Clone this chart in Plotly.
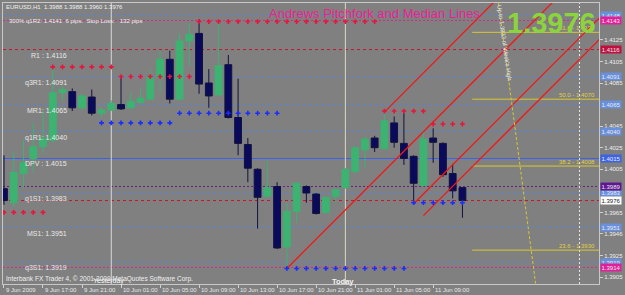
import plotly.graph_objects as go

# ---------------- data ----------------
bar_index = list(range(48))  # H1 bars, 0 = 9 Jun 13:00
opens  = [1.3987,1.3974,1.4001,1.4015,1.4026,1.4032,1.4076,1.4077,1.4062,1.4072,
          1.4057,1.4060,1.4065,1.4062,1.4067,1.4070,1.4090,1.4107,1.4070,1.4124,
          1.4131,1.4085,1.4074,1.4102,1.4053,1.4028,1.4005,1.3980,1.3989,1.3933,
          1.3966,1.3989,1.3982,1.3965,1.3980,1.3988,1.4003,1.4023,1.4034,1.4024,
          1.4048,1.4029,1.4017,1.3990,1.4034,1.4029,1.4001,1.3988]
highs  = [1.4018,1.4021,1.4032,1.4048,1.4059,1.4101,1.4082,1.4080,1.4075,1.4079,
          1.4062,1.4069,1.4091,1.4076,1.4080,1.4098,1.4115,1.4115,1.4131,1.4141,
          1.4144,1.4098,1.4143,1.4111,1.4089,1.4034,1.4006,1.4013,1.3993,1.3974,
          1.3993,1.3990,1.3983,1.3980,1.3988,1.4006,1.4026,1.4035,1.4036,1.4058,
          1.4054,1.4057,1.4018,1.4042,1.4043,1.4030,1.4010,1.3988]
lows   = [1.3972,1.3970,1.3988,1.4002,1.4020,1.4030,1.4069,1.4059,1.4060,1.4055,
          1.4053,1.4059,1.4060,1.4061,1.4066,1.4069,1.4076,1.4066,1.4069,1.4101,
          1.4075,1.4062,1.4073,1.4052,1.4018,1.3993,1.3950,1.3979,1.3931,1.3913,
          1.3955,1.3974,1.3963,1.3964,1.3974,1.3987,1.4001,1.4006,1.4021,1.4023,
          1.4025,1.4009,1.3973,1.3989,1.4011,1.3998,1.3978,1.3960]
closes = [1.3976,1.4002,1.4011,1.4026,1.4034,1.4076,1.4079,1.4062,1.4073,1.4057,
          1.4060,1.4066,1.4061,1.4068,1.4071,1.4090,1.4107,1.4070,1.4124,1.4130,
          1.4084,1.4073,1.4101,1.4053,1.4029,1.4006,1.3979,1.3988,1.3932,1.3966,
          1.3992,1.3983,1.3964,1.3979,1.3986,1.4005,1.4025,1.4033,1.4025,1.4050,
          1.4030,1.4015,1.3992,1.4033,1.4030,1.4000,1.3985,1.3976]

tick_index  = [0, 4, 8, 12, 16, 20, 24, 28, 32, 36, 40, 44]
tick_labels = ["9 Jun 2009", "9 Jun 17:00", "9 Jun 21:00", "10 Jun 01:00",
               "10 Jun 05:00", "10 Jun 09:00", "10 Jun 13:00", "10 Jun 17:00",
               "10 Jun 21:00", "11 Jun 01:00", "11 Jun 05:00", "11 Jun 09:00"]

price_ticks     = [1.4125, 1.4105, 1.4085, 1.4045, 1.4025, 1.4005,
                   1.3965, 1.3945, 1.3925, 1.3905]
price_tick_text = ["1.4125", "1.4105", "1.4085", "1.4045", "1.4025",
                   "1.4005", "1.3965", "1.3946", "1.3925", "1.3905"]

pivot_labels = ["R1 : 1.4116", "q3R1: 1.4091", "MR1: 1.4065", "q1R1: 1.4040",
                "DPV : 1.4015", "q1S1: 1.3983", "MS1: 1.3951", "q3S1: 1.3919"]
pivot_values = [1.4116, 1.4091, 1.4065, 1.4040, 1.4015, 1.3983, 1.3951, 1.3919]
pivot_kind   = ["red", "blue", "blue", "blue", "dpv", "blue", "blue", "blue"]

extra_values = [1.4148, 1.4143, 1.3914, 1.3989, 1.3976]
extra_kind   = ["blue", "pink", "pink", "purple", "bid"]

fib_names  = ["61.8", "50.0", "38.2", "23.6"]
fib_prices = [1.4132, 1.4070, 1.4008, 1.3930]
fib_start  = 48
fib_end    = 62

# pitchfork / median lines (bar index, price)
pf_x0 = [29, 39, 42, 43]
pf_y0 = [1.3913, 1.4058, 1.3973, 1.3962]
pf_x1 = [62, 62, 62, 62]
pf_y1 = [1.4212, 1.4267, 1.4154, 1.4134]

# week-high projection line
wk_x = [50.7, 54.5]
wk_y = [1.4159, 1.3899]

# support / resistance dot rows
red_start = [0, 5, 12, 20, 39, 44]
red_end   = [4, 11, 19, 38, 43, 47]
red_price = [1.3965, 1.4100, 1.4091, 1.4142, 1.4059, 1.4047]
blue_start = [10, 18, 29, 42]
blue_end   = [17, 28, 41, 47]
blue_price = [1.4048, 1.4057, 1.3913, 1.3974]

yesterday_bar = 11
today_bar = 35
tomorrow_bar = 59

# ---------------- styles ----------------
BG = "#808080"
FONT = "Arial, Liberation Sans, sans-serif"
LINE_STYLE = {
    "blue":   dict(color="#5a82d6", width=1, dash="3px,3px"),
    "dpv":    dict(color="#3a62ec", width=1.2, dash="solid"),
    "red":    dict(color="#c8142e", width=1, dash="3px,3px"),
    "pink":   dict(color="#d42a88", width=1, dash="2px,2px"),
    "purple": dict(color="#6a2088", width=1, dash="2px,2px"),
    "bid":    dict(color="#c8142e", width=1, dash="3px,3px"),
}
BOX_COLOR = {"blue": "#6890dc", "dpv": "#3c64e0", "red": "#c01040",
             "pink": "#e0209a", "purple": "#601890", "bid": "#ffffff"}

fig = go.Figure()

# horizontal level lines
for v, k in zip(pivot_values + extra_values, pivot_kind + extra_kind):
    fig.add_shape(type="line", xref="paper", x0=0, x1=1, yref="y", y0=v, y1=v,
                  line=LINE_STYLE[k], layer="below")

# vertical separators
fig.add_shape(type="line", xref="x", x0=yesterday_bar, x1=yesterday_bar,
              yref="paper", y0=0, y1=1, line=dict(color="#d8d8d8", width=1), layer="below")
fig.add_shape(type="line", xref="x", x0=today_bar, x1=today_bar,
              yref="paper", y0=0, y1=1, line=dict(color="#d8d8c0", width=1), layer="below")
fig.add_shape(type="line", xref="x", x0=tomorrow_bar, x1=tomorrow_bar,
              yref="paper", y0=0, y1=1, line=dict(color="#e8e8e8", width=1, dash="2px,2px"),
              layer="below")

# fib lines
for p in fib_prices:
    fig.add_shape(type="line", xref="x", x0=fib_start, x1=fib_end, yref="y", y0=p, y1=p,
                  line=dict(color="#d8c830", width=1), layer="below")

# candles
fig.add_trace(go.Candlestick(
    x=bar_index, open=opens, high=highs, low=lows, close=closes,
    increasing=dict(line=dict(color="#3cb371", width=1), fillcolor="#3cb371"),
    decreasing=dict(line=dict(color="#12123e", width=1), fillcolor="#0a0a5c"),
    whiskerwidth=0, showlegend=False, hoverinfo="skip"))

# pitchfork lines
for x0, y0, x1, y1 in zip(pf_x0, pf_y0, pf_x1, pf_y1):
    fig.add_trace(go.Scatter(x=[x0, x1], y=[y0, y1], mode="lines",
                             line=dict(color="#f01818", width=1.3),
                             showlegend=False, hoverinfo="skip"))

# week high projection
fig.add_trace(go.Scatter(x=wk_x, y=wk_y, mode="lines",
                         line=dict(color="#d8c830", width=1, dash="3px,2px"),
                         showlegend=False, hoverinfo="skip"))

# dot rows
def dots(starts, ends, prices):
    xs, ys = [], []
    for s, e, p in zip(starts, ends, prices):
        for i in range(s, e + 1):
            xs.append(i)
            ys.append(p)
    return xs, ys

rx, ry = dots(red_start, red_end, red_price)
bx, by = dots(blue_start, blue_end, blue_price)
fig.add_trace(go.Scatter(x=rx, y=ry, mode="markers",
                         marker=dict(symbol="cross", size=4, color="#e8143c"),
                         showlegend=False, hoverinfo="skip"))
fig.add_trace(go.Scatter(x=bx, y=by, mode="markers",
                         marker=dict(symbol="cross", size=4, color="#1a2cff"),
                         showlegend=False, hoverinfo="skip"))

ann = []
# pivot labels
for t, v in zip(pivot_labels, pivot_values):
    ann.append(dict(x=6.62, y=v, xref="x", yref="y", text=t, showarrow=False,
                    xanchor="right", yanchor="top", yshift=0,
                    font=dict(family=FONT, size=7, color="#e8e8e8")))
# fib labels
for n, p in zip(fib_names, fib_prices):
    ann.append(dict(x=0.997, y=p, xref="paper", yref="y", text=f"{n} - {p:.4f}",
                    showarrow=False, xanchor="right", yanchor="bottom", yshift=-1,
                    font=dict(family=FONT, size=6, color="#e0d040")))
# right-side price boxes
for v, k in zip(pivot_values + extra_values, pivot_kind + extra_kind):
    ann.append(dict(x=1, y=v, xref="paper", yref="y", text=f"{v:.4f}", showarrow=False,
                    xanchor="left", yanchor="middle", xshift=1, width=20, height=7,
                    bgcolor=BOX_COLOR[k], borderpad=0,
                    font=dict(family=FONT, size=6,
                              color="#202020" if k == "bid" else "#e8e8f0")))
# time labels
for i, t in zip(tick_index, tick_labels):
    ann.append(dict(x=i, y=0, xref="x", yref="paper", text=t, showarrow=False,
                    xanchor="left", yanchor="top", xshift=0, yshift=-1,
                    font=dict(family=FONT, size=6, color="#e8e8e8")))
# static texts
ann += [
    dict(x=0.0017, y=0.986, xref="paper", yref="paper",
         text="EURUSD,H1  1.3988 1.3988 1.3960 1.3976", showarrow=False,
         xanchor="left", yanchor="middle", font=dict(family=FONT, size=6, color="#f0f0f0")),
    dict(x=0.0067, y=0.936, xref="paper", yref="paper",
         text="300% q1R2: 1.4141  6 pips.  Stop Loss:   132 pips", showarrow=False,
         xanchor="left", yanchor="middle", font=dict(family=FONT, size=6, color="#f0f0f0")),
    dict(x=0.443, y=0.962, xref="paper", yref="paper",
         text="Andrews Pitchfork and Median Lines", showarrow=False,
         xanchor="left", yanchor="middle", font=dict(family=FONT, size=13, color="#ee1f8f")),
    dict(x=0.999, y=0.928, xref="paper", yref="paper", text="<b>1.3976</b>", showarrow=False,
         xanchor="right", yanchor="middle", font=dict(family=FONT, size=29, color="#8cd43c")),
    dict(x=0.0017, y=0.018, xref="paper", yref="paper",
         text="Interbank FX Trader 4, © 2001-2009 MetaQuotes Software Corp.", showarrow=False,
         xanchor="left", yanchor="middle", font=dict(family=FONT, size=6.5, color="#f0f0f0")),
    dict(x=yesterday_bar - 0.3, y=0.01, xref="x", yref="paper", text="Yesterday",
         showarrow=False, xanchor="center", yanchor="middle",
         font=dict(family=FONT, size=7, color="#f4f4f4")),
    dict(x=today_bar - 0.2, y=0.01, xref="x", yref="paper", text="<b>Today</b>",
         showarrow=False, xanchor="center", yanchor="middle",
         font=dict(family=FONT, size=7.5, color="#f4f4f4")),
    dict(x=51.3, y=1.4122, xref="x", yref="y", text="Up to 1.3932 of Week's High",
         showarrow=False, textangle=82, xanchor="center", yanchor="middle",
         font=dict(family=FONT, size=6, color="#e8e8e8")),
]

fig.update_layout(
    width=625, height=295,
    margin=dict(l=2, r=23, t=2, b=11),
    paper_bgcolor=BG, plot_bgcolor=BG,
    showlegend=False,
    boxgap=0.3, boxgroupgap=0,
    annotations=ann,
    xaxis=dict(range=[-0.1, 61.0], tickvals=tick_index, showticklabels=False,
               ticks="outside", ticklen=3, tickcolor="#d0d0d0",
               showgrid=False, zeroline=False, showline=True, mirror=True,
               linecolor="#c8c8c8", rangeslider=dict(visible=False), fixedrange=True),
    yaxis=dict(range=[1.38986, 1.41592], side="right", tickvals=price_ticks,
               ticktext=price_tick_text, ticks="outside", ticklen=3, tickcolor="#d0d0d0",
               tickfont=dict(family=FONT, size=6, color="#eeeeee"),
               showgrid=False, zeroline=False, showline=True, mirror=True,
               linecolor="#c8c8c8", fixedrange=True),
)

fig.write_html("out.html")
